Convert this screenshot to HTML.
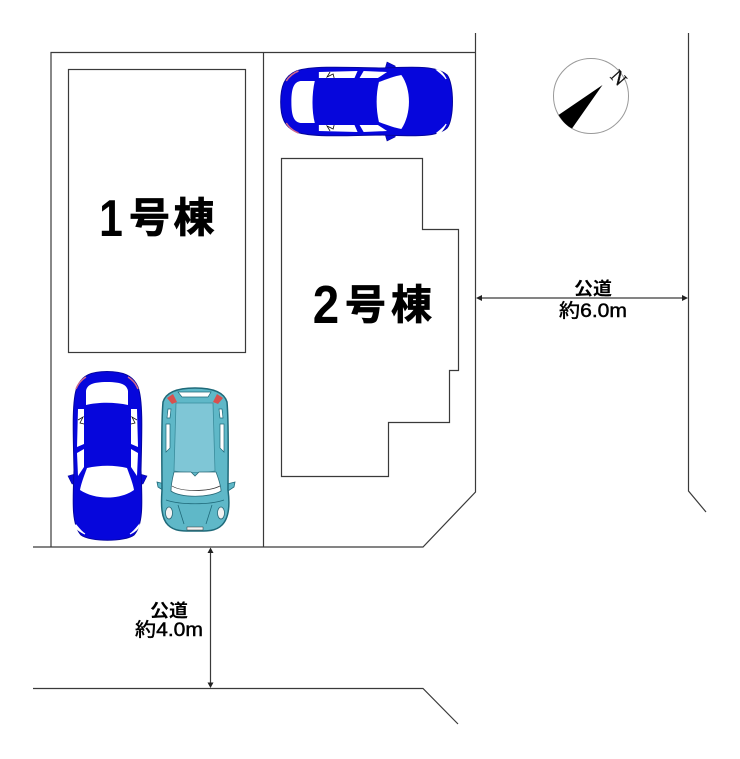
<!DOCTYPE html>
<html><head><meta charset="utf-8"><style>
html,body{margin:0;padding:0;background:#fff}
svg{display:block;filter:blur(0.35px)}
.j{font-family:"Liberation Sans","Noto Sans CJK JP",sans-serif;font-weight:700;fill:#000}
.m{font-family:"Liberation Sans","Noto Sans CJK JP",sans-serif;font-weight:400;fill:#000;stroke:#000;stroke-width:.45}
</style></head><body>
<svg width="740" height="759" viewBox="0 0 740 759" xmlns="http://www.w3.org/2000/svg">
<rect width="740" height="759" fill="#fff"/>
<defs>
<g id="bluecar">
<path d="M68 476 L75 474 L78 484 L72 484 Z M147 476 L140 474 L137 484 L143 484 Z" fill="#0606d6" stroke="#05059a" stroke-width=".6"/>
<path d="M107 371.500 C122 371.500 133 375 138 387 C143 400 142 430 141 470 C142 500 144 524 134 535 C125 542 90 542 81 535 C71 524 73 500 74 470 C73 430 72 400 77 387 C82 375 92 371.500 107 371.500 Z" fill="#0606dc" stroke="#05059e" stroke-width="1"/>
<path d="M86 391 C87 385 92 382 107 382 C122 382 127 385 128 391 L128 405 C115 402 98 402 86 405 Z" fill="#fff"/>
<path d="M87 468 C100 465 115 465 127 468 C130 476 133 484 134 490 C120 500 95 500 80 490 C81 484 84 476 87 468 Z" fill="#fff"/>
<path d="M78 409 L84 409 L84 444 L77 447 Z M131 409 L137 409 L138 447 L131 444 Z M77 453 L84 449 L84 467 L78 476 Z M138 453 L131 449 L131 467 L137 476 Z" fill="#fff"/>
<path d="M78 420 L83 417 L80 423 L84 424 M137 420 L132 417 L135 423 L131 424" fill="none" stroke="#111" stroke-width="0.800"/>
<path d="M76 389 C78 384 81 380 86 377 M138 389 C136 384 133 380 128 377" fill="none" stroke="#d06a8c" stroke-width="1.500"/>
<path d="M76 525 C80 530 83 533 85 534 C81 532 76 529 75 526 Z M139 525 C135 530 132 533 130 534 C134 532 138 529 139 526 Z" fill="#fff" stroke="#fff" stroke-width="1.200"/>
</g>
</defs>

<!-- site lines -->
<g fill="none" stroke="#3a3a3a" stroke-width="1.200">
<path d="M51 547 V52.500 H475"/>
<path d="M263.500 52.500 V547"/>
<path d="M475.500 33 V492 L423 547 H33"/>
<path d="M688.500 33 V491 L706 512"/>
<path d="M33 688.500 H423 L458 724"/>
<rect x="68.500" y="69.500" width="177" height="283"/>
<path d="M281.500 158.500 H422.500 V229.500 H458.500 V370.500 H449.500 V422.500 H388.500 V476.500 H281.500 Z"/>
<path d="M479 298 H684"/>
<path d="M210.500 551 V684"/>
</g>
<g fill="#222">
<path d="M476 298 L482 295 L482 301 Z M688 298 L682 295 L682 301 Z"/>
<path d="M210.500 547.500 L207.500 553 H213.500 Z M210.500 688 L207.500 682.500 H213.500 Z"/>
</g>

<use href="#bluecar"/>
<use href="#bluecar" transform="matrix(0 -1 1.018 0 -97.500 209) "/>

<!-- teal car -->
<g>
<path d="M157 482 L165 484 L164 491 L158 487 Z M235 482 L227 484 L228 491 L234 487 Z" fill="#5fb8c8" stroke="#1f6a7a" stroke-width="0.800"/>
<path d="M195 388 C212 388 224 392 227 402 C229 425 228 460 228 490 C230 505 229 518 222 525 C215 532 205 531 195 531 C185 531 175 532 168 525 C161 518 161 505 162 490 C162 460 161 425 163 402 C166 392 178 388 195 388 Z" fill="#5fb8c8" stroke="#1f6a7a" stroke-width="1.500"/>
<path d="M176 403 H213 L215 471 C206 473 184 473 174 471 Z" fill="#7fc6d6" stroke="#3a8c9c" stroke-width="0.800"/>
<path d="M178 392 H211 L208 397 H182 Z" fill="#fff" stroke="#1f6a7a" stroke-width="0.700"/>
<path d="M167 398 L173 394 L177 402 L172 404 Z M223 398 L217 394 L213 402 L218 404 Z" fill="#d8504e"/>
<path d="M174 472 H191 L195 476 L199 472 H216 C219 480 221 488 221 491 C210 498 180 498 171 491 C171 488 172 480 174 472 Z" fill="#fff" stroke="#2a6a78" stroke-width="0.800"/>
<path d="M172 486 C182 492 208 492 220 486" fill="none" stroke="#333" stroke-width="0.700"/>
<path d="M166 424 H170 V448 L166 452 Z M224 424 H220 V448 L224 452 Z M168 409 L171 409 L170 418 L167 418 Z M222 409 L219 409 L220 418 L223 418 Z" fill="#fff" stroke="#1f6a7a" stroke-width="0.700"/>
<path d="M178 505 L184 524 M212 505 L206 524 M166 500 C180 505 210 505 224 500" fill="none" stroke="#1f6a7a" stroke-width="0.800"/>
<ellipse cx="169" cy="513" rx="3.500" ry="6" fill="#f2f2f2" stroke="#2a6a78" stroke-width="0.800"/>
<ellipse cx="221" cy="513" rx="3.500" ry="6" fill="#f2f2f2" stroke="#2a6a78" stroke-width="0.800"/>
<rect x="187" y="527" width="16" height="3" fill="#f4f4f4" stroke="#333" stroke-width="0.500"/>
</g>

<!-- compass -->
<circle cx="591" cy="96" r="37.500" fill="#fff" stroke="#999" stroke-width="1"/>
<path d="M602.500 85 L558.500 115 C563 122 567 126 572 128.500 Z" fill="#000"/>
<text x="0" y="0" font-size="19" text-anchor="middle" transform="translate(614 82) rotate(48)" style="font-family:'Liberation Serif',serif;font-weight:400;fill:#111;stroke:#111;stroke-width:.3">N</text>

<!-- labels -->
<text class="j" font-size="52" text-anchor="middle" transform="translate(111 236) scale(.82 1)">1</text>
<text class="j" font-size="41" y="232" stroke="#000" stroke-width="0.800"><tspan x="129">号</tspan><tspan x="173.500">棟</tspan></text>
<text class="j" font-size="54" text-anchor="middle" transform="translate(326 323) scale(.88 1)">2</text>
<text class="j" font-size="41" y="319" stroke="#000" stroke-width="0.800"><tspan x="345">号</tspan><tspan x="391">棟</tspan></text>

<text class="j" x="574" y="295" font-size="18" textLength="38" lengthAdjust="spacingAndGlyphs">公道</text>
<text class="m" x="559" y="317" font-size="19" textLength="68" lengthAdjust="spacingAndGlyphs">約6.0m</text>
<text class="j" x="150" y="617" font-size="18" textLength="38" lengthAdjust="spacingAndGlyphs">公道</text>
<text class="m" x="135" y="636" font-size="19" textLength="68" lengthAdjust="spacingAndGlyphs">約4.0m</text>
</svg>
</body></html>
